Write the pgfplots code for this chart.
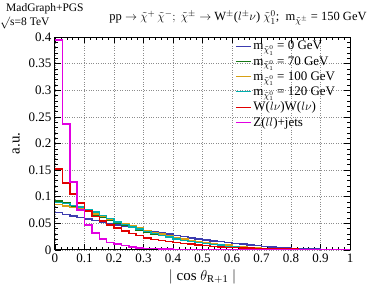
\documentclass[border=0pt]{standalone}
\usepackage{pgfplots}
\pgfplotsset{compat=1.18}
\usepackage{fontspec}
\setmainfont{Liberation Serif}
\definecolor{cblue}{RGB}{60,60,175}
\definecolor{cgreen}{RGB}{20,120,20}
\definecolor{corange}{RGB}{215,160,20}
\definecolor{ccyan}{RGB}{0,175,175}
\definecolor{cred}{RGB}{225,0,0}
\definecolor{cmag}{RGB}{225,0,225}
\pgfplotsset{legend image code/.code={\draw[#1, line width=1.3pt] (0pt,0pt) -- (15pt,0pt);}}
\begin{document}
\begin{tikzpicture}[x=1pt,y=1pt]
\path[use as bounding box] (-55pt,-46pt) rectangle (319pt,250pt);
\begin{axis}[
  scale only axis, width=295pt, height=213pt,
  xmin=0, xmax=1, ymin=0, ymax=0.4,
  xtick={0,0.1,...,1.0}, ytick={0,0.05,...,0.4},
  minor x tick num=4, minor y tick num=4,
  tick align=inside, major tick length=6pt, minor tick length=3pt,
  xticklabel style={/pgf/number format/fixed, /pgf/number format/precision=1},
  yticklabel style={/pgf/number format/fixed, /pgf/number format/precision=2},
  /pgf/number format/assume math mode=true,
  ticklabel style={font=\fontsize{13}{15}\selectfont},
  grid=major, major grid style={black!45, dotted, line width=0.6pt},
  axis line style={line width=1pt},
  every tick/.style={black, line width=0.6pt},
  xlabel={$|$ cos $\theta_{\mathrm{R+1}}$ $|$},
  ylabel={a.u.},
  xlabel style={font=\fontsize{15}{17}\selectfont, yshift=0pt},
  ylabel style={font=\fontsize{15}{17}\selectfont, yshift=2pt},
  legend cell align=left,
  legend style={draw=none, fill=none, at={(0.61,0.99)}, anchor=north west,
    font=\fontsize{13}{14}\selectfont, row sep=1pt, inner sep=0pt},
  every axis plot/.append style={const plot mark left, no marks, line width=1.5pt},
]
\addplot[cblue] coordinates {
(0.000,0.070)(0.025,0.067)(0.050,0.064)(0.075,0.061)(0.100,0.058)(0.125,0.055)(0.150,0.052)(0.175,0.050)
(0.200,0.047)(0.225,0.044)(0.250,0.042)(0.275,0.039)(0.300,0.037)(0.325,0.034)(0.350,0.032)(0.375,0.030)
(0.400,0.027)(0.425,0.025)(0.450,0.023)(0.475,0.021)(0.500,0.019)(0.525,0.017)(0.550,0.016)(0.575,0.014)
(0.600,0.012)(0.625,0.011)(0.650,0.009)(0.675,0.008)(0.700,0.007)(0.725,0.006)(0.750,0.005)(0.775,0.004)
(0.800,0.003)(0.825,0.003)(0.850,0.002)(0.875,0.002)(0.900,0.001)(0.925,0.001)(0.950,0.001)(0.975,0.0005)(1.000,0.0005)};
\addlegendentry{$\mathrm{m}_{\tilde{\chi}^{0}_{1}}$ = 0 GeV}
\addplot[cgreen] coordinates {
(0.000,0.092)(0.025,0.088)(0.050,0.083)(0.075,0.078)(0.100,0.072)(0.125,0.066)(0.150,0.061)(0.175,0.056)
(0.200,0.051)(0.225,0.046)(0.250,0.042)(0.275,0.038)(0.300,0.034)(0.325,0.030)(0.350,0.027)(0.375,0.024)
(0.400,0.021)(0.425,0.019)(0.450,0.017)(0.475,0.015)(0.500,0.013)(0.525,0.011)(0.550,0.010)(0.575,0.008)
(0.600,0.007)(0.625,0.006)(0.650,0.005)(0.675,0.004)(0.700,0.003)(0.725,0.003)(0.750,0.002)(0.775,0.002)
(0.800,0.0015)(0.825,0.001)(0.850,0.001)(0.875,0.0008)(0.900,0.0006)(0.925,0.0005)(0.950,0.0004)(0.975,0.0003)(1.000,0.0003)};
\addlegendentry{$\mathrm{m}_{\tilde{\chi}^{0}_{1}}$ = 70 GeV}
\addplot[corange] coordinates {
(0.000,0.085)(0.025,0.083)(0.050,0.080)(0.075,0.077)(0.100,0.072)(0.125,0.068)(0.150,0.063)(0.175,0.058)
(0.200,0.053)(0.225,0.049)(0.250,0.045)(0.275,0.041)(0.300,0.037)(0.325,0.033)(0.350,0.030)(0.375,0.026)
(0.400,0.023)(0.425,0.021)(0.450,0.018)(0.475,0.016)(0.500,0.014)(0.525,0.012)(0.550,0.010)(0.575,0.009)
(0.600,0.007)(0.625,0.006)(0.650,0.005)(0.675,0.004)(0.700,0.003)(0.725,0.0025)(0.750,0.002)(0.775,0.0015)
(0.800,0.001)(0.825,0.001)(0.850,0.0008)(0.875,0.0006)(0.900,0.0005)(0.925,0.0004)(0.950,0.0003)(0.975,0.0002)(1.000,0.0002)};
\addlegendentry{$\mathrm{m}_{\tilde{\chi}^{0}_{1}}$ = 100 GeV}
\addplot[ccyan] coordinates {
(0.000,0.089)(0.025,0.087)(0.050,0.084)(0.075,0.081)(0.100,0.076)(0.125,0.071)(0.150,0.065)(0.175,0.059)
(0.200,0.053)(0.225,0.048)(0.250,0.043)(0.275,0.039)(0.300,0.035)(0.325,0.031)(0.350,0.027)(0.375,0.024)
(0.400,0.021)(0.425,0.018)(0.450,0.016)(0.475,0.014)(0.500,0.012)(0.525,0.010)(0.550,0.009)(0.575,0.007)
(0.600,0.006)(0.625,0.005)(0.650,0.004)(0.675,0.003)(0.700,0.0025)(0.725,0.002)(0.750,0.0015)(0.775,0.001)
(0.800,0.001)(0.825,0.0008)(0.850,0.0006)(0.875,0.0005)(0.900,0.0004)(0.925,0.0003)(0.950,0.0002)(0.975,0.0002)(1.000,0.0002)};
\addlegendentry{$\mathrm{m}_{\tilde{\chi}^{0}_{1}}$ = 120 GeV}
\addplot[cred] coordinates {
(0.000,0.152)(0.025,0.126)(0.050,0.105)(0.075,0.088)(0.100,0.073)(0.125,0.063)(0.150,0.054)(0.175,0.047)
(0.200,0.041)(0.225,0.036)(0.250,0.031)(0.275,0.027)(0.300,0.023)(0.325,0.020)(0.350,0.018)(0.375,0.016)
(0.400,0.014)(0.425,0.012)(0.450,0.011)(0.475,0.009)(0.500,0.008)(0.525,0.007)(0.550,0.006)(0.575,0.005)
(0.600,0.0045)(0.625,0.004)(0.650,0.0035)(0.675,0.003)(0.700,0.0025)(0.725,0.002)(0.750,0.002)(0.775,0.0015)
(0.800,0.0015)(0.825,0.001)(0.850,0.001)(0.875,0.001)(0.900,0.0008)(0.925,0.0006)(0.950,0.0005)(0.975,0.0004)(1.000,0.0004)};
\addlegendentry{W($l\nu$)W($l\nu$)}
\addplot[cmag] coordinates {
(0.000,0.394)(0.025,0.237)(0.050,0.128)(0.075,0.075)(0.100,0.047)(0.125,0.032)(0.150,0.021)(0.175,0.014)
(0.200,0.011)(0.225,0.008)(0.250,0.006)(0.275,0.004)(0.300,0.003)(0.325,0.0025)(0.350,0.002)(0.375,0.0015)
(0.400,0.0012)(0.425,0.001)(0.450,0.001)(0.475,0.0009)(0.500,0.0008)(0.525,0.0008)(0.550,0.0007)(0.575,0.0007)
(0.600,0.0006)(0.625,0.0006)(0.650,0.0005)(0.675,0.0005)(0.700,0.0005)(0.725,0.0004)(0.750,0.0004)(0.775,0.0004)
(0.800,0.0004)(0.825,0.0003)(0.850,0.0003)(0.875,0.0003)(0.900,0.0003)(0.925,0.0003)(0.950,0.0003)(0.975,0.0003)(1.000,0.0003)};
\addlegendentry{Z($ll$)+jets}
\end{axis}
\node[anchor=base west, inner sep=0pt, font=\fontsize{11.5}{13}\selectfont] at (-49pt,238pt) {MadGraph+PGS};
\node[anchor=base west, inner sep=0pt, font=\fontsize{11.5}{13}\selectfont] at (-55pt,224pt) {$\surd$s=8 TeV};
\node[anchor=base, inner sep=0pt, font=\fontsize{12.5}{15}\selectfont] at (183pt,229pt) {pp $\rightarrow \tilde{\chi}^{+}\,\tilde{\chi}^{-};\ \tilde{\chi}^{\pm}\rightarrow$ W$^{\pm}$($l^{\pm}\nu$) $\tilde{\chi}^{0}_{1}$;\ \ m$_{\tilde{\chi}^{\pm}}$ = 150 GeV};
\end{tikzpicture}
\end{document}
